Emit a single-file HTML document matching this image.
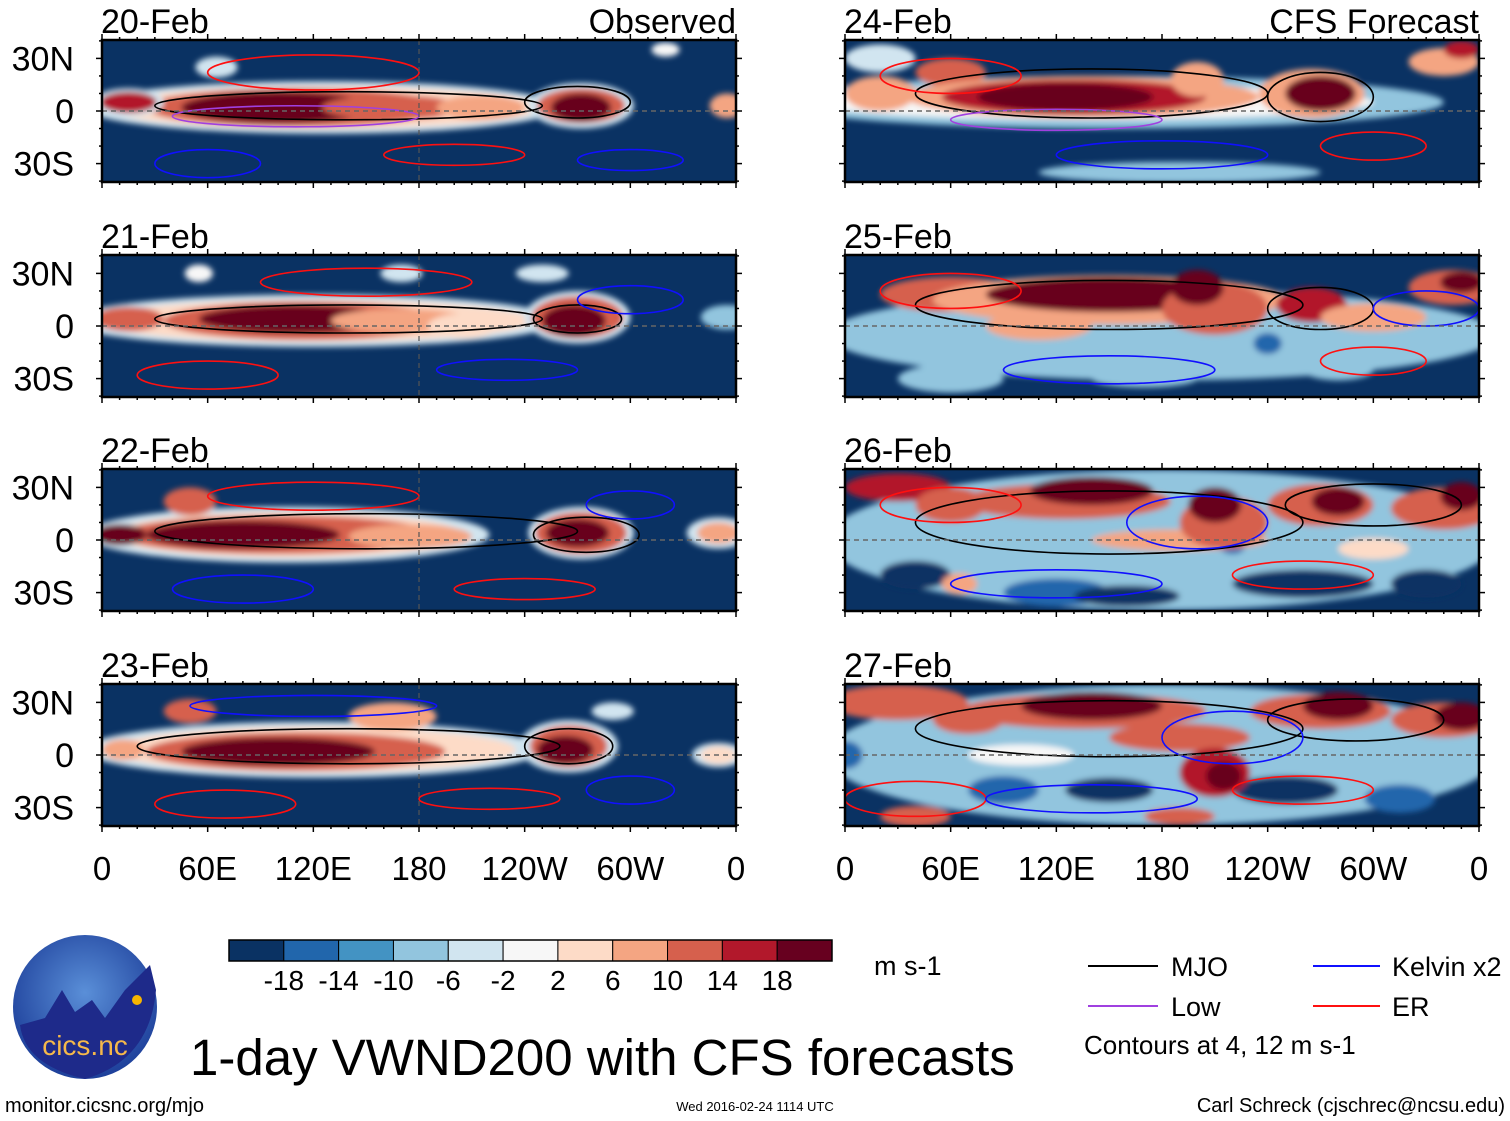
<!DOCTYPE html>
<html><head><meta charset="utf-8">
<style>
body{margin:0;background:#fff;}
svg{display:block;font-family:"Liberation Sans",Arial,sans-serif;}
</style></head>
<body>
<svg id="root" width="1510" height="1121" viewBox="0 0 1510 1121" xmlns="http://www.w3.org/2000/svg">
<defs>
<filter id="bl" x="-20%" y="-40%" width="140%" height="180%"><feGaussianBlur stdDeviation="3"/></filter>
<radialGradient id="logoG" cx="50%" cy="40%" r="60%"><stop offset="0" stop-color="#5a8fd8"/><stop offset="1" stop-color="#1d3f9a"/></radialGradient>
</defs>
<g id="panels"></g>
<g id="colorbar"></g>
<text x="874" y="975" font-size="27">m s-1</text>

<g>
<line x1="1088" y1="966" x2="1158" y2="966" stroke="#000" stroke-width="2"/>
<text x="1171" y="976" font-size="27">MJO</text>
<line x1="1313" y1="966" x2="1380" y2="966" stroke="#1010ff" stroke-width="2"/>
<text x="1392" y="976" font-size="27">Kelvin x2</text>
<line x1="1088" y1="1006" x2="1158" y2="1006" stroke="#a040e0" stroke-width="2"/>
<text x="1171" y="1016" font-size="27">Low</text>
<line x1="1313" y1="1006" x2="1380" y2="1006" stroke="#ff1010" stroke-width="2"/>
<text x="1392" y="1016" font-size="27">ER</text>
<text x="1084" y="1054" font-size="26">Contours at 4, 12 m s-1</text>
</g>

<g>
<circle cx="85" cy="1007" r="72" fill="url(#logoG)"/>
<path d="M20 1025 L45 1018 L62 990 L75 1012 L92 1000 L105 1018 L125 990 L150 965 L156 990 Q150 1060 85 1079 Q25 1065 20 1025Z" fill="#1e2a8a"/>
<circle cx="137" cy="1000" r="5" fill="#f7b500"/>
<text x="85" y="1055" font-size="28" fill="#f5b84a" text-anchor="middle">cics.nc</text>
</g>

<text x="190" y="1075" font-size="51">1-day VWND200 with CFS forecasts</text>
<text x="5" y="1112" font-size="20">monitor.cicsnc.org/mjo</text>
<text x="755" y="1111" font-size="13" text-anchor="middle">Wed 2016-02-24 1114 UTC</text>
<text x="1505" y="1112" font-size="20" text-anchor="end">Carl Schreck (cjschrec@ncsu.edu)</text>
</svg>

<script>
const levels=[-18,-14,-10,-6,-2,2,6,10,14,18];
const colors=["#0a3263","#2166ac","#4393c3","#92c5de","#d1e5f0","#f7f7f7","#fddbc7","#f4a582","#d6604d","#b2182b","#67001f"];
const lonTicks=["0","60E","120E","180","120W","60W","0"];
const latTicks=["30N","0","30S"];
const panelDates=["20-Feb","21-Feb","22-Feb","23-Feb","24-Feb","25-Feb","26-Feb","27-Feb"];
// blobs: [lon, lat, lonRadius, latRadius, value]
const blobs0=[[125,2,135,15,-4],[125,2,125,12,4],[110,2,85,11,12],[100,2,55,9,20],[15,5,20,8,-4],[15,5,16,6,18],[165,2,40,7,14],[215,2,25,7,8],[272,3,30,13,-4],[272,3,25,10,12],[272,2,17,8,20],[355,3,10,7,10],[320,35,8,4,2],[65,25,12,6,-4]];
const blobs1=[[120,3,140,15,-4],[120,3,125,12,4],[115,3,80,11,12],[110,4,55,8,20],[15,4,20,7,12],[170,3,40,7,10],[205,0,20,7,6],[270,5,30,15,-4],[270,5,26,12,12],[268,3,18,9,20],[170,30,12,5,-2],[250,30,15,5,-4],[55,30,8,5,2],[355,5,15,7,-6]];
const blobs2=[[105,3,115,16,-4],[105,3,100,13,6],[100,3,90,11,14],[80,3,55,8,20],[10,3,15,6,20],[175,2,35,7,10],[272,4,30,15,-4],[272,4,26,12,12],[270,4,18,8,20],[350,4,18,9,-4],[350,4,12,6,8],[50,22,15,8,14]];
const blobs3=[[120,3,130,16,-4],[120,3,115,13,6],[110,2,85,11,14],[100,2,55,8,20],[50,25,15,7,12],[12,3,12,6,10],[165,22,25,8,8],[265,5,28,15,-4],[265,5,22,12,12],[263,3,16,8,20],[350,0,15,7,-4],[350,0,10,5,6],[290,25,12,5,-4]];
const blobs4=[[150,5,190,15,-6],[140,5,160,10,0],[20,10,20,10,8],[60,22,20,8,14],[135,8,100,12,10],[130,8,75,10,16],[125,8,50,8,20],[200,18,15,10,8],[265,10,30,14,10],[270,10,20,10,20],[340,28,20,8,10],[350,35,10,5,18],[190,-35,80,6,-6],[20,30,20,8,-2]];
const blobs5=[[180,-5,190,26,-8],[60,18,40,10,12],[150,15,100,14,8],[150,18,70,10,20],[110,0,30,8,10],[210,10,30,15,14],[200,22,15,10,20],[265,12,20,10,18],[300,5,30,8,8],[345,22,25,10,14],[350,25,12,6,20],[240,-10,8,6,-16],[60,-30,30,8,-6],[280,-25,20,6,-6],[170,-30,30,5,-8]];
const blobs6=[[180,0,190,40,-8],[120,-30,30,8,-16],[260,-25,40,8,-18],[330,-25,20,8,-18],[220,-2,8,6,-14],[40,-20,20,8,-18],[160,-32,30,6,-20],[30,30,30,8,16],[60,20,20,10,12],[125,22,60,10,12],[140,28,35,8,20],[190,0,50,6,10],[215,10,25,15,14],[210,20,15,10,20],[270,20,30,12,14],[280,22,15,8,20],[340,18,30,12,12],[350,25,12,8,20],[65,-25,10,6,8],[300,-5,20,6,4]];
const blobs7=[[180,0,190,40,-8],[90,-20,20,8,-14],[250,-20,30,8,-18],[315,-25,20,8,-16],[0,0,10,8,-14],[150,-20,25,7,-18],[30,30,40,10,12],[70,20,20,8,14],[135,25,70,10,14],[140,28,40,8,20],[190,10,40,8,12],[210,-10,20,14,16],[215,-12,10,8,20],[270,25,40,10,14],[280,28,20,8,20],[340,20,30,10,12],[350,22,15,8,20],[40,-35,20,6,14],[190,-35,20,5,12],[100,0,30,6,0]];
const allBlobs=[blobs0,blobs1,blobs2,blobs3,blobs4,blobs5,blobs6,blobs7];
// contours: [lon, lat, lonRadius, latRadius, type]
const contourTypes={mjo:"#000",kelvin:"#1010ff",low:"#a040e0",er:"#ff1010"};
const cont0=[[140,3,110,8,"mjo"],[270,5,30,9,"mjo"],[120,22,60,10,"er"],[60,-30,30,8,"kelvin"],[200,-25,40,6,"er"],[300,-28,30,6,"kelvin"],[110,-3,70,6,"low"]];
const cont1=[[140,4,110,8,"mjo"],[270,4,25,8,"mjo"],[150,25,60,8,"er"],[60,-28,40,8,"er"],[230,-25,40,6,"kelvin"],[300,15,30,8,"kelvin"]];
const cont2=[[150,5,120,10,"mjo"],[275,3,30,10,"mjo"],[120,25,60,8,"er"],[80,-28,40,8,"kelvin"],[240,-28,40,6,"er"],[300,20,25,8,"kelvin"]];
const cont3=[[140,5,120,10,"mjo"],[265,5,25,10,"mjo"],[120,28,70,6,"kelvin"],[70,-28,40,8,"er"],[220,-25,40,6,"er"],[300,-20,25,8,"kelvin"]];
const cont4=[[140,10,100,14,"mjo"],[270,8,30,14,"mjo"],[60,20,40,10,"er"],[180,-25,60,8,"kelvin"],[300,-20,30,8,"er"],[120,-5,60,6,"low"]];
const cont5=[[150,12,110,14,"mjo"],[270,10,30,12,"mjo"],[60,20,40,10,"er"],[150,-25,60,8,"kelvin"],[300,-20,30,8,"er"],[330,10,30,10,"kelvin"]];
const cont6=[[150,10,110,18,"mjo"],[300,20,50,12,"mjo"],[60,20,40,10,"er"],[120,-25,60,8,"kelvin"],[260,-20,40,8,"er"],[200,10,40,15,"kelvin"]];
const cont7=[[150,15,110,16,"mjo"],[290,20,50,12,"mjo"],[40,-25,40,10,"er"],[140,-25,60,8,"kelvin"],[260,-20,40,8,"er"],[220,10,40,15,"kelvin"]];
const allCont=[cont0,cont1,cont2,cont3,cont4,cont5,cont6,cont7];

const NS="http://www.w3.org/2000/svg";
const pX=[102,845], pW=634, pY=[40,255,469,684], pH=142;
function colorFor(v){let i=0;while(i<levels.length&&v>levels[i])i++;return colors[i];}
function mk(tag,attrs,parent){const e=document.createElementNS(NS,tag);for(const k in attrs)e.setAttribute(k,attrs[k]);parent.appendChild(e);return e;}
const root=document.getElementById('panels');
for(let p=0;p<8;p++){
  const col=p<4?0:1,row=p%4;
  const x0=pX[col],y0=pY[row];
  const xs=lon=>x0+lon/360*pW;
  const ys=lat=>y0+pH/2-lat/81*pH;
  const g=mk('g',{},root);
  
  
  const cp=mk('clipPath',{id:'cp'+p},g);
  mk('rect',{x:x0,y:y0,width:pW,height:pH},cp);
  const inner=mk('g',{'clip-path':'url(#cp'+p+')'},g);
  mk('rect',{x:x0,y:y0,width:pW,height:pH,fill:colors[0]},inner);
  const fg=mk('g',{filter:'url(#bl)'},inner);
  allBlobs[p].forEach(b=>{
    const e=mk('ellipse',{cx:xs(b[0]),cy:ys(b[1]),rx:b[2]/360*pW,ry:b[3]/81*pH,fill:colorFor(b[4])},fg);
    
    
  });
  allCont[p].forEach(c=>{
    const e=mk('ellipse',{cx:xs(c[0]),cy:ys(c[1]),rx:c[2]/360*pW,ry:c[3]/81*pH,fill:'none',stroke:contourTypes[c[4]],'stroke-width':1.6},inner);
    
    
  });
  mk('line',{x1:x0,y1:ys(0),x2:x0+pW,y2:ys(0),stroke:'#666','stroke-width':1.5,'stroke-dasharray':'5,4'},inner);
  if(col===0) mk('line',{x1:xs(180),y1:y0,x2:xs(180),y2:y0+pH,stroke:'#555','stroke-width':1.2,'stroke-dasharray':'5,4'},inner);
  mk('rect',{x:x0,y:y0,width:pW,height:pH,fill:'none',stroke:'#000','stroke-width':2.5},g);
  for(let l=0;l<=360;l+=10){
    const L=l%60===0?6:3;
    mk('line',{x1:xs(l),y1:y0,x2:xs(l),y2:y0-L,stroke:'#000','stroke-width':1.5},g);
    mk('line',{x1:xs(l),y1:y0+pH,x2:xs(l),y2:y0+pH+L,stroke:'#000','stroke-width':1.5},g);
  }
  for(let la=-40;la<=40;la+=10){
    const L=la%30===0?6:3;
    mk('line',{x1:x0,y1:ys(la),x2:x0-L,y2:ys(la),stroke:'#000','stroke-width':1.5},g);
    mk('line',{x1:x0+pW,y1:ys(la),x2:x0+pW+L,y2:ys(la),stroke:'#000','stroke-width':1.5},g);
  }
  const t=mk('text',{x:x0-1,y:y0-7,'font-size':34},g);t.textContent=panelDates[p];
  
  if(row===0){const s=mk('text',{x:x0+pW,y:y0-7,'font-size':34,'text-anchor':'end'},g);s.textContent=col===0?'Observed':'CFS Forecast';
    }
  if(col===0){[30,0,-30].forEach((la,i)=>{const a=mk('text',{x:74,y:ys(la)+12,'font-size':34,'text-anchor':'end'},g);a.textContent=latTicks[i];
    });}
  if(row===3){lonTicks.forEach((s,i)=>{const a=mk('text',{x:xs(i*60),y:880,'font-size':33,'text-anchor':'middle'},g);a.textContent=s;
    });}
}
const cb=document.getElementById('colorbar');
const cbx=229,cbw=603,cby=940,cbh=21,bw=cbw/colors.length;
colors.forEach((c,i)=>{const r=mk('rect',{x:cbx+i*bw,y:cby,width:bw,height:cbh,fill:c,stroke:'#000','stroke-width':1},cb);
  });
mk('rect',{x:cbx,y:cby,width:cbw,height:cbh,fill:'none',stroke:'#000','stroke-width':1.5},cb);
levels.forEach((v,i)=>{const t=mk('text',{x:cbx+(i+1)*bw,y:990,'font-size':28,'text-anchor':'middle'},cb);t.textContent=v;
  });
</script>
</body></html>
